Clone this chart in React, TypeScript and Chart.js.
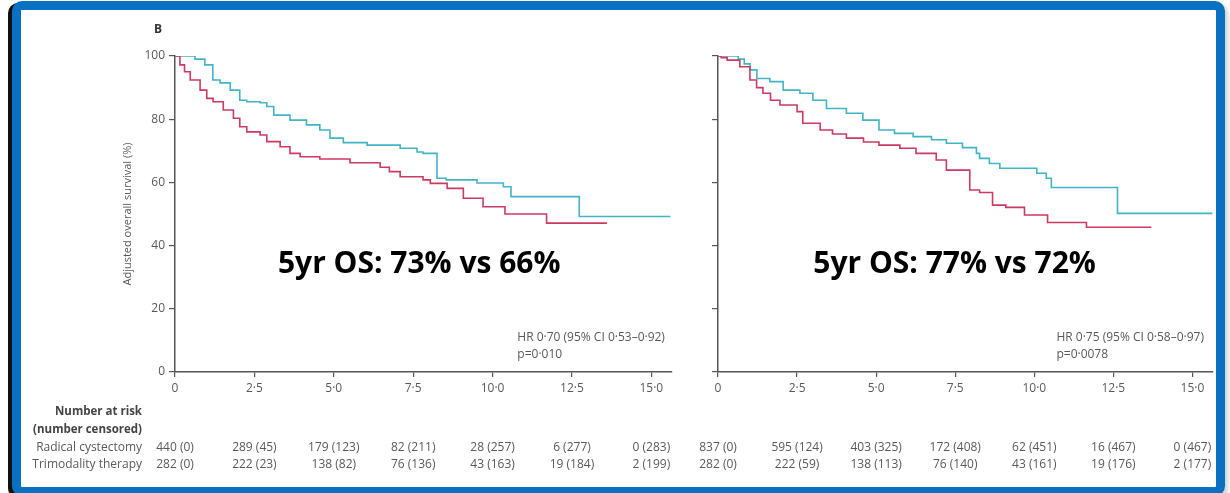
import React, { useEffect, useRef } from 'react';
import { Chart, registerables } from 'chart.js';

Chart.register(...registerables);

// ---------- data ----------
const xTickValues = [0, 2.5, 5, 7.5, 10, 12.5, 15];
const yTickValues = [0, 20, 40, 60, 80, 100];
const riskRowLabels = ['Radical cystectomy', 'Trimodality therapy'];
const riskHeader = ['Number at risk', '(number censored)'];
const yTitle = 'Adjusted overall survival (%)';
const panelLetter = 'B';

// Left panel
const leftTmtTime = [0, 0.63, 0.94, 1.19, 1.42, 1.74, 2.04, 2.26, 2.68, 2.89, 3.11, 3.62, 4.14, 4.56, 4.88, 5.3, 6.05, 7.09, 7.62, 7.81, 8.25, 8.54, 9.51, 10.34, 10.58, 12.73, 15.6];
const leftTmtSurv = [100, 99, 97.2, 92.4, 91.5, 89.2, 86, 85.5, 85.2, 84, 81.3, 79.7, 78.2, 76.6, 74, 72.6, 71.8, 70.8, 69.6, 69.2, 61.3, 60.8, 59.8, 58.6, 55.5, 49.2, 49.2];
const leftRcTime = [0, 0.155, 0.3, 0.48, 0.79, 1.0, 1.2, 1.52, 1.84, 2.04, 2.26, 2.68, 2.89, 3.31, 3.62, 3.94, 4.56, 5.51, 6.46, 6.75, 7.09, 7.81, 8.04, 8.57, 9.08, 9.7, 10.39, 11.7, 13.6];
const leftRcSurv = [100, 97.2, 95, 92.4, 89.2, 86.6, 85.5, 82.9, 80.3, 77.6, 76, 75, 72.9, 71.3, 69.2, 68.1, 67.4, 66.2, 64.8, 63.4, 61.8, 60.8, 59.7, 58.1, 55, 52.3, 50, 47.1, 47.1];
const leftRcRisk = ['440 (0)', '289 (45)', '179 (123)', '82 (211)', '28 (257)', '6 (277)', '0 (283)'];
const leftTmtRisk = ['282 (0)', '222 (23)', '138 (82)', '76 (136)', '43 (163)', '19 (184)', '2 (199)'];
const leftHr = ['HR 0·70 (95% CI 0·53–0·92)', 'p=0·010'];
const leftOs = '5yr OS: 73% vs 66%';

// Right panel
const rightTmtTime = [0, 0.64, 0.83, 1.01, 1.23, 1.64, 2.06, 2.59, 3.0, 3.43, 4.06, 4.58, 5.09, 5.58, 6.17, 6.75, 7.22, 7.73, 8.17, 8.27, 8.58, 8.91, 10.08, 10.38, 10.54, 12.63, 15.63];
const rightTmtSurv = [100, 99, 97.5, 95.6, 92.9, 91.9, 89.2, 88.2, 86, 83.4, 81.9, 79.7, 76.6, 75.5, 74.5, 73.5, 72.4, 71, 69.2, 67.6, 66, 64.5, 62.9, 61.3, 58.4, 50.2, 50.2];
const rightRcTime = [0, 0.1, 0.29, 0.69, 1.01, 1.22, 1.42, 1.66, 1.96, 2.5, 2.68, 3.23, 3.62, 4.06, 4.6, 5.09, 5.75, 6.26, 6.9, 7.22, 7.96, 8.27, 8.68, 9.1, 9.69, 10.42, 11.65, 13.7];
const rightRcSurv = [100, 99.5, 98.7, 96.6, 92.4, 90, 88.2, 86, 84.5, 82.4, 78.7, 76.6, 75.3, 74, 72.8, 71.8, 70.8, 69.2, 67.1, 63.9, 57.6, 56.8, 52.8, 52.1, 49.7, 47.3, 45.8, 45.8];
const rightRcRisk = ['837 (0)', '595 (124)', '403 (325)', '172 (408)', '62 (451)', '16 (467)', '0 (467)'];
const rightTmtRisk = ['282 (0)', '222 (59)', '138 (113)', '76 (140)', '43 (161)', '19 (176)', '2 (177)'];
const rightHr = ['HR 0·75 (95% CI 0·58–0·97)', 'p=0·0078'];
const rightOs = '5yr OS: 77% vs 72%';

// ---------- styles ----------
const FONT = '"Open Sans", "Liberation Sans", sans-serif';
const TEXT = '#595959';
const CYAN = '#41b4c6';
const RED = '#cc3a62';
const AXIS = '#555';
const X_MAX = 15.65;

type Panel = {
  tmtTime: number[]; tmtSurv: number[];
  rcTime: number[]; rcSurv: number[];
  rcRisk: string[]; tmtRisk: string[];
  hr: string[]; os: string;
  osX: number; hrX: number;
  showLabels: boolean;
  yWidth: number; padRight: number;
};

const fmtX = (v: number) => (v === 0 ? '0' : v.toFixed(1).replace('.', '·'));

function makePlugin(p: Panel) {
  return {
    id: 'panelText',
    afterDraw(chart: any) {
      const { ctx, chartArea: a } = chart;
      const xs = chart.scales.x;
      const ys = chart.scales.y;
      ctx.save();
      ctx.textBaseline = 'middle';
      if (p.showLabels) {
        ctx.font = `bold 12px ${FONT}`;
        ctx.fillStyle = '#333';
        ctx.textAlign = 'center';
        ctx.fillText(panelLetter, a.left - 17, a.top - 26);

        ctx.save();
        ctx.translate(a.left - 47, (a.top + a.bottom) / 2);
        ctx.rotate(-Math.PI / 2);
        ctx.font = `11px ${FONT}`;
        ctx.fillStyle = TEXT;
        ctx.fillText(yTitle, 0, 0);
        ctx.restore();

        ctx.textAlign = 'right';
        ctx.font = `bold 11.5px ${FONT}`;
        ctx.fillStyle = '#444';
        ctx.fillText(riskHeader[0], a.left - 33, a.bottom + 40);
        ctx.fillText(riskHeader[1], a.left - 33, a.bottom + 58);
        ctx.font = `12px ${FONT}`;
        ctx.fillStyle = TEXT;
        ctx.fillText(riskRowLabels[0], a.left - 33, a.bottom + 76);
        ctx.fillText(riskRowLabels[1], a.left - 33, a.bottom + 93);
      }
      ctx.font = `12px ${FONT}`;
      ctx.fillStyle = TEXT;
      ctx.textAlign = 'center';
      xTickValues.forEach((v, i) => {
        const px = xs.getPixelForValue(v);
        ctx.fillText(p.rcRisk[i], px, a.bottom + 76);
        ctx.fillText(p.tmtRisk[i], px, a.bottom + 93);
      });

      ctx.textAlign = 'left';
      ctx.fillText(p.hr[0], xs.getPixelForValue(p.hrX), ys.getPixelForValue(10.8));
      ctx.fillText(p.hr[1], xs.getPixelForValue(p.hrX), ys.getPixelForValue(5.4));

      ctx.font = `bold 30px ${FONT}`;
      ctx.fillStyle = '#000';
      ctx.textAlign = 'center';
      ctx.textBaseline = 'alphabetic';
      ctx.fillText(p.os, xs.getPixelForValue(p.osX), ys.getPixelForValue(31.3));
      ctx.restore();
    },
  };
}

function PanelChart({ panel, left, width }: { panel: Panel; left: number; width: number }) {
  const ref = useRef<HTMLCanvasElement>(null);
  useEffect(() => {
    const toPts = (t: number[], s: number[]) => t.map((x, i) => ({ x, y: s[i] }));
    const chart = new Chart(ref.current as HTMLCanvasElement, {
      type: 'line',
      data: {
        datasets: [
          {
            label: 'Radical cystectomy',
            data: toPts(panel.rcTime, panel.rcSurv),
            borderColor: RED,
            borderWidth: 1.6,
            pointRadius: 0,
            stepped: 'before',
            fill: false,
          },
          {
            label: 'Trimodality therapy',
            data: toPts(panel.tmtTime, panel.tmtSurv),
            borderColor: CYAN,
            borderWidth: 1.6,
            pointRadius: 0,
            stepped: 'before',
            fill: false,
          },
        ],
      },
      options: {
        animation: false,
        responsive: false,
        devicePixelRatio: 1,
        layout: { padding: { left: 0, top: 46, right: panel.padRight, bottom: 0 } },
        plugins: { legend: { display: false }, tooltip: { enabled: false } },
        scales: {
          x: {
            type: 'linear',
            min: 0,
            max: X_MAX,
            afterBuildTicks: (s: any) => { s.ticks = xTickValues.map((v) => ({ value: v })); },
            afterFit: (s: any) => { s.height = 115; },
            grid: { display: true, drawOnChartArea: false, drawTicks: true, tickLength: 5, color: AXIS, lineWidth: 1.2 },
            border: { display: true, color: AXIS, width: 1.5 },
            ticks: {
              color: TEXT,
              padding: 4,
              font: { family: FONT, size: 12 },
              maxRotation: 0,
              autoSkip: false,
              callback: (v: any) => fmtX(Number(v)),
            },
          },
          y: {
            type: 'linear',
            min: 0,
            max: 100,
            afterBuildTicks: (s: any) => { s.ticks = yTickValues.map((v) => ({ value: v })); },
            afterFit: (s: any) => { s.width = panel.yWidth; },
            grid: { display: true, drawOnChartArea: false, drawTicks: true, tickLength: 6, color: AXIS, lineWidth: 1.2 },
            border: { display: true, color: AXIS, width: 1.5 },
            ticks: {
              display: panel.showLabels,
              color: TEXT,
              padding: 4,
              font: { family: FONT, size: 12 },
              callback: (v: any) => String(v),
            },
          },
        },
      },
      plugins: [makePlugin(panel)],
    } as any);
    return () => chart.destroy();
  }, []);
  return (
    <canvas
      ref={ref}
      width={width}
      height={477}
      style={{ position: 'absolute', left, top: 10, width, height: 477 }}
    />
  );
}

const leftPanel: Panel = {
  tmtTime: leftTmtTime, tmtSurv: leftTmtSurv,
  rcTime: leftRcTime, rcSurv: leftRcSurv,
  rcRisk: leftRcRisk, tmtRisk: leftTmtRisk,
  hr: leftHr, os: leftOs,
  osX: 7.69, hrX: 10.78,
  showLabels: true,
  yWidth: 154, padRight: 9,
};

const rightPanel: Panel = {
  tmtTime: rightTmtTime, tmtSurv: rightTmtSurv,
  rcTime: rightRcTime, rcSurv: rightRcSurv,
  rcRisk: rightRcRisk, tmtRisk: rightTmtRisk,
  hr: rightHr, os: rightOs,
  osX: 7.48, hrX: 10.7,
  showLabels: false,
  yWidth: 37, padRight: 3,
};

export default function App() {
  return (
    <div style={{ position: 'absolute', left: 0, top: 0, width: 1230, height: 493, overflow: 'hidden', background: '#fff' }}>
      <div
        style={{
          position: 'absolute',
          left: 12,
          top: 1,
          width: 1213,
          height: 495,
          boxSizing: 'border-box',
          border: '9px solid #0a70c2',
          borderRadius: 10,
          background: '#fff',
          boxShadow: '-4px 2px 0 #111, 3px 3px 4px rgba(0,0,0,0.18)',
        }}
      />
      <PanelChart panel={leftPanel} left={21} width={660} />
      <PanelChart panel={rightPanel} left={681} width={535} />
    </div>
  );
}
